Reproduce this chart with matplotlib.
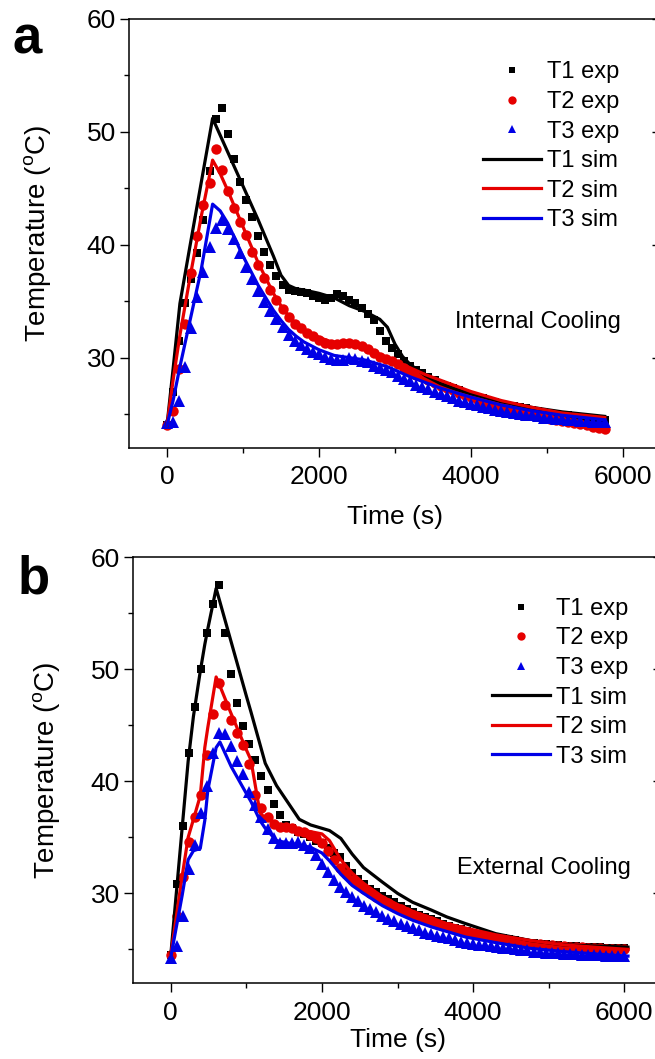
import matplotlib
matplotlib.use('Agg')
import matplotlib.pyplot as plt
from matplotlib.ticker import MultipleLocator

plt.rcParams['font.family'] = ['Liberation Sans', 'DejaVu Sans']
plt.rcParams['mathtext.fontset'] = 'custom'
plt.rcParams['mathtext.rm'] = 'Liberation Sans'

# sampling times of the thermocouple readings (s)
exp_time = [
    0, 80, 160, 240, 320, 400, 480, 560, 640, 720,
    800, 880, 960, 1040, 1120, 1200, 1280, 1360, 1440, 1520,
    1600, 1680, 1760, 1840, 1920, 2000, 2080, 2160, 2240, 2320,
    2400, 2480, 2560, 2640, 2720, 2800, 2880, 2960, 3040, 3120,
    3200, 3280, 3360, 3440, 3520, 3600, 3680, 3760, 3840, 3920,
    4000, 4080, 4160, 4240, 4320, 4400, 4480, 4560, 4640, 4720,
    4800, 4880, 4960, 5040, 5120, 5200, 5280, 5360, 5440, 5520,
    5600, 5680, 5760, 5840, 5920, 6000,
]
n_a = 73  # panel a stops at 5760 s

# ---- panel a: internal cooling ----
t1_exp_a = [
    24.0, 27.0, 31.5, 34.8, 37.0, 39.3, 42.2, 46.5, 51.1, 52.1,
    49.8, 47.6, 45.6, 44.0, 42.5, 40.8, 39.4, 38.2, 37.2, 36.4,
    36.0, 35.9, 35.8, 35.7, 35.5, 35.3, 35.1, 35.3, 35.6, 35.5,
    35.1, 34.8, 34.4, 33.9, 33.3, 32.4, 31.5, 30.9, 30.3, 29.7,
    29.3, 28.9, 28.6, 28.3, 28.0, 27.7, 27.5, 27.3, 27.1, 26.9,
    26.7, 26.5, 26.4, 26.2, 26.1, 25.9, 25.8, 25.7, 25.6, 25.5,
    25.4, 25.3, 25.2, 25.1, 25.0, 24.9, 24.9, 24.8, 24.7, 24.7,
    24.6, 24.6, 24.5,
]
t2_exp_a = [
    24.0, 25.3, 29.0, 33.0, 37.5, 40.8, 43.5, 45.5, 48.5, 46.6,
    44.8, 43.3, 42.0, 40.9, 39.4, 38.2, 37.1, 36.0, 35.1, 34.3,
    33.6, 33.0, 32.6, 32.2, 31.9, 31.6, 31.3, 31.2, 31.2, 31.3,
    31.3, 31.2, 31.0, 30.8, 30.4, 30.1, 29.9, 29.7, 29.4, 29.1,
    28.8, 28.5, 28.3, 28.0, 27.8, 27.5, 27.3, 27.1, 26.9, 26.7,
    26.5, 26.3, 26.1, 25.9, 25.8, 25.6, 25.5, 25.3, 25.2, 25.0,
    24.9, 24.8, 24.7, 24.6, 24.5, 24.4, 24.3, 24.2, 24.1, 24.0,
    23.9, 23.8, 23.7,
]
t3_exp_a = [
    24.2, 24.3, 26.2, 29.2, 32.6, 35.4, 37.6, 39.8, 41.5, 42.2,
    41.4, 40.5, 39.3, 38.0, 37.0, 35.9, 34.9, 34.1, 33.4, 32.7,
    32.0, 31.5, 31.1, 30.8, 30.5, 30.3, 30.1, 29.9, 29.8, 29.8,
    30.0, 29.9, 29.7, 29.6, 29.3, 29.1, 28.9, 28.7, 28.4, 28.1,
    27.9, 27.6, 27.4, 27.2, 27.0, 26.8, 26.6, 26.4, 26.2, 26.1,
    25.9, 25.8, 25.6, 25.5, 25.4, 25.3, 25.2, 25.1, 25.0, 24.9,
    24.9, 24.8, 24.7, 24.7, 24.6, 24.6, 24.5, 24.5, 24.4, 24.4,
    24.3, 24.3, 24.3,
]
sim_time_a = [0, 80, 170, 300, 450, 600, 700, 800, 1000, 1200, 1400, 1500,
              1600, 1700, 1800, 2000, 2200, 2400, 2600, 2800, 2900, 3000,
              3100, 3200, 3400, 3600, 3800, 4000, 4400, 4800, 5200, 5760]
t1_sim_a = [24.0, 29.0, 34.8, 39.8, 45.5, 51.2, 49.7, 48.2, 45.2, 42.2, 39.0, 37.3,
            36.4, 36.1, 36.0, 35.7, 35.3, 34.6, 34.1, 33.4, 32.7, 31.2,
            30.1, 29.4, 28.4, 27.7, 27.2, 26.8, 26.1, 25.6, 25.2, 24.8]
t2_sim_a = [24.0, 28.0, 32.0, 37.0, 42.5, 47.5, 46.3, 44.8, 41.6, 38.4, 35.7, 34.6,
            33.7, 33.0, 32.5, 31.8, 31.3, 31.1, 30.8, 30.3, 30.0, 29.7,
            29.4, 29.1, 28.5, 28.0, 27.5, 27.0, 26.2, 25.6, 25.1, 24.7]
t3_sim_a = [24.0, 26.2, 29.2, 33.2, 37.8, 43.6, 43.0, 41.9, 39.0, 36.4, 34.2, 33.3,
            32.5, 31.9, 31.4, 30.7, 30.2, 30.0, 29.8, 29.4, 29.2, 28.9,
            28.6, 28.3, 27.8, 27.3, 26.9, 26.5, 25.8, 25.3, 24.9, 24.5]

# ---- panel b: external cooling ----
t1_exp_b = [
    24.5, 30.8, 36.0, 42.5, 46.6, 50.0, 53.2, 55.8, 57.5, 53.2,
    49.6, 47.0, 44.9, 43.3, 41.9, 40.5, 39.2, 38.0, 37.0, 36.1,
    35.8, 35.5, 35.3, 35.0, 34.7, 34.5, 34.0, 33.6, 33.2, 32.4,
    31.8, 31.3, 30.8, 30.4, 30.1, 29.8, 29.5, 29.2, 28.9, 28.6,
    28.3, 28.1, 27.9, 27.7, 27.5, 27.3, 27.1, 26.9, 26.8, 26.6,
    26.5, 26.4, 26.3, 26.2, 26.1, 26.0, 25.9, 25.8, 25.7, 25.6,
    25.6, 25.5, 25.5, 25.4, 25.4, 25.3, 25.3, 25.3, 25.2, 25.2,
    25.2, 25.2, 25.1, 25.1, 25.1, 25.1,
]
t2_exp_b = [
    24.5, 28.0, 31.5, 34.6, 36.8, 38.8, 42.3, 46.0, 48.8, 46.8,
    45.5, 44.3, 43.2, 41.5, 38.8, 37.6, 36.8, 36.2, 35.9, 35.9,
    35.8, 35.6, 35.5, 35.2, 34.9, 34.5, 33.8, 33.0, 32.3, 31.7,
    31.2, 30.8, 30.4, 30.0, 29.7, 29.4, 29.1, 28.8, 28.6, 28.3,
    28.1, 27.9, 27.7, 27.5, 27.3, 27.1, 27.0, 26.8, 26.7, 26.5,
    26.4, 26.3, 26.2, 26.1, 26.0, 25.9, 25.8, 25.7, 25.7, 25.6,
    25.5, 25.5, 25.4, 25.4, 25.3, 25.3, 25.2, 25.2, 25.2, 25.1,
    25.1, 25.1, 25.0, 25.0, 25.0, 25.0,
]
t3_exp_b = [
    24.2, 25.3, 28.0, 32.2, 34.3, 37.2, 39.6, 42.5, 44.3, 44.2,
    43.1, 41.8, 40.6, 39.0, 37.9, 36.8, 35.7, 34.9, 34.5, 34.5,
    34.5, 34.6, 34.3, 34.0, 33.4, 32.6, 31.9, 31.2, 30.6, 30.1,
    29.7, 29.3, 28.9, 28.6, 28.3, 28.0, 27.7, 27.5, 27.3, 27.1,
    26.9, 26.7, 26.5, 26.4, 26.2, 26.1, 26.0, 25.8, 25.7, 25.6,
    25.5, 25.4, 25.4, 25.3, 25.2, 25.1, 25.1, 25.0, 24.9, 24.9,
    24.8, 24.8, 24.7, 24.7, 24.7, 24.6, 24.6, 24.6, 24.5, 24.5,
    24.5, 24.5, 24.4, 24.4, 24.4, 24.4,
]
sim_time_b = [0, 150, 230, 300, 390, 450, 490, 600, 650, 800, 1000, 1060,
              1180, 1250, 1400, 1550, 1700, 1850, 2000, 2100, 2250, 2400,
              2550, 2800, 3000, 3200, 3450, 3650, 3900, 4300, 4750, 5200,
              5600, 6050]
t1_sim_b = [24.5, 35.8, 41.8, 45.8, 49.8, 52.2, 53.6, 57.2, 56.0, 52.4, 47.6, 46.2,
            43.3, 41.6, 39.6, 38.1, 36.6, 36.1, 35.8, 35.6, 34.9, 33.5,
            32.3, 31.0, 30.0, 29.2, 28.5, 27.9, 27.3, 26.4, 25.8, 25.4,
            25.3, 25.2]
t2_sim_b = [24.5, 31.5, 35.0, 36.6, 38.7, 43.0, 44.8, 49.3, 48.5, 46.0, 42.8, 41.9,
            37.2, 36.7, 36.2, 35.9, 35.7, 35.5, 35.3, 34.7, 33.0, 31.8,
            30.9, 29.7, 29.0, 28.4, 27.8, 27.3, 26.9, 26.3, 25.8, 25.4,
            25.2, 25.0]
t3_sim_b = [24.3, 29.8, 33.0, 33.8, 34.0, 36.5, 39.2, 43.0, 43.5, 41.3, 38.9, 38.2,
            36.5, 35.8, 34.7, 34.5, 34.3, 34.1, 33.6, 32.9, 31.7, 30.7,
            30.0, 28.9, 28.2, 27.6, 27.0, 26.6, 26.1, 25.6, 25.1, 24.8,
            24.6, 24.4]

BLACK = 'black'
RED = '#e60000'
BLUE = '#0000e6'
FS = 17


def plot_panel(ax, t_exp, exps, t_sim, sims, note, leg_anchor, xpad, xlab_y, ylab_x):
    markers = [('s', 6.2), ('o', 7.5), ('^', 8.0)]
    colors = [BLACK, RED, BLUE]
    for i, y in enumerate(exps):
        ax.plot(t_exp[:len(y)], y, linestyle='none', marker=markers[i][0],
                ms=markers[i][1], mew=0, color=colors[i],
                label='T{} exp'.format(i + 1))
    for i, y in enumerate(sims):
        ax.plot(t_sim, y, '-', lw=2.3, color=colors[i],
                label='T{} sim'.format(i + 1))

    ax.set_xlim(-500, 6500)
    ax.set_ylim(22, 60)
    ax.xaxis.set_major_locator(MultipleLocator(2000))
    ax.xaxis.set_minor_locator(MultipleLocator(1000))
    ax.yaxis.set_major_locator(MultipleLocator(10))
    ax.yaxis.set_minor_locator(MultipleLocator(5))
    ax.tick_params(which='major', direction='out', length=6.5, width=1.0,
                   labelsize=FS + 2, pad=3.0)
    ax.tick_params(which='minor', direction='out', length=3.5, width=1.0)
    ax.tick_params(axis='x', which='major', pad=xpad)
    for s in ax.spines.values():
        s.set_linewidth(1.1)

    # mirrored ticks on the right side, pointing inwards
    sec = ax.secondary_yaxis('right')
    sec.yaxis.set_major_locator(MultipleLocator(10))
    sec.yaxis.set_minor_locator(MultipleLocator(5))
    sec.tick_params(which='major', direction='in', length=6.5, width=1.0,
                    labelright=False)
    sec.tick_params(which='minor', direction='in', length=3.5, width=1.0)

    ax.set_xlabel('Time (s)', fontsize=FS + 2)
    ax.set_ylabel(r'Temperature ($\mathrm{^{o}}$C)', fontsize=FS + 3)
    ax.xaxis.set_label_coords(0.5, xlab_y)
    ax.yaxis.set_label_coords(ylab_x, 0.5)

    ax.text(0.613, note[1], note[0], transform=ax.transAxes,
            fontsize=FS, ha='left', va='center')

    ax.legend(loc='upper left', bbox_to_anchor=leg_anchor, frameon=False,
              fontsize=FS, borderpad=0, borderaxespad=0, handlelength=2.45,
              handletextpad=0.25, labelspacing=0.32, numpoints=1,
              markerscale=0.8)


fig = plt.figure(figsize=(6.55, 10.59), dpi=100)
ax_a = fig.add_axes([129 / 655, 1 - 448 / 1059, 532 / 655, 429 / 1059])
ax_b = fig.add_axes([133 / 655, 1 - 983 / 1059, 529 / 655, 426 / 1059])

plot_panel(ax_a, exp_time[:n_a], [t1_exp_a, t2_exp_a, t3_exp_a],
           sim_time_a, [t1_sim_a, t2_sim_a, t3_sim_a],
           ('Internal Cooling', 0.294), (0.665, 0.901), 5.5, -0.133, -0.143)
plot_panel(ax_b, exp_time, [t1_exp_b, t2_exp_b, t3_exp_b],
           sim_time_b, [t1_sim_b, t2_sim_b, t3_sim_b],
           ('External Cooling', 0.27), (0.679, 0.904), 6.5, -0.105, -0.134)

fig.text(13 / 655, 1 - 53 / 1059, 'a', fontsize=38, fontweight='bold',
         ha='left', va='baseline')
fig.text(18 / 655, 1 - 593 / 1059, 'b', fontsize=38, fontweight='bold',
         ha='left', va='baseline')

fig.savefig('out.png', dpi=100)
